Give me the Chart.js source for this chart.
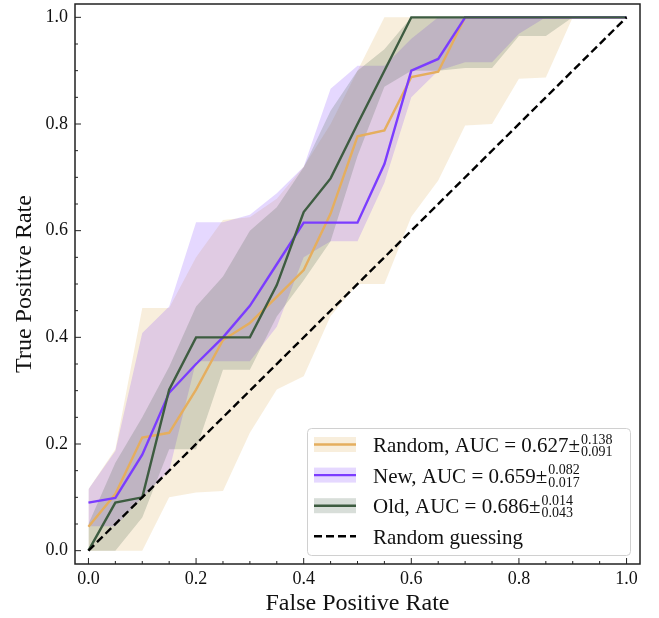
<!DOCTYPE html>
<html>
<head>
<meta charset="utf-8">
<title>ROC curves</title>
<script src="https://cdn.jsdelivr.net/npm/chart.js@4.4.1/dist/chart.umd.min.js"></script>
<style>
  body { margin: 0; background: #fff; }
  #wrap { width: 659px; height: 618px; position: relative; }
</style>
</head>
<body>
<div id="wrap"><canvas id="roc"></canvas></div>
<script>
// false positive rate grid shared by every curve
const fpr = [0, 0.05, 0.1, 0.15, 0.2, 0.25, 0.3, 0.35, 0.4, 0.45, 0.5,
             0.55, 0.6, 0.65, 0.7, 0.75, 0.8, 0.85, 0.9, 0.95, 1.0]

const randomTpr  = [0.045, 0.106, 0.212, 0.221, 0.302, 0.395, 0.427, 0.476, 0.526, 0.632, 0.777, 0.788, 0.888, 0.898, 1, 1, 1, 1, 1, 1, 1]
const randomLow  = [0, 0, 0, 0.1, 0.109, 0.112, 0.221, 0.302, 0.327, 0.44, 0.5, 0.5, 0.626, 0.694, 0.797, 0.8, 0.885, 0.887, 1, 1, 1]
const randomHigh = [0.115, 0.19, 0.455, 0.455, 0.55, 0.62, 0.625, 0.66, 0.72, 0.8, 0.9, 1, 1, 1, 1, 1, 1, 1, 1, 1, 1]

const newTpr  = [0.09, 0.099, 0.18, 0.296, 0.35, 0.40, 0.459, 0.537, 0.615, 0.615, 0.615, 0.725, 0.9, 0.922, 1, 1, 1, 1, 1, 1, 1]
const newLow  = [0.046, 0.046, 0.1, 0.15, 0.355, 0.355, 0.355, 0.42, 0.55, 0.58, 0.58, 0.69, 0.85, 0.9, 0.916, 0.916, 0.969, 1, 1, 1, 1]
const newHigh = [0.115, 0.187, 0.408, 0.458, 0.616, 0.616, 0.63, 0.67, 0.72, 0.866, 0.909, 0.909, 0.96, 1, 1, 1, 1, 1, 1, 1, 1]

const oldTpr  = [0, 0.09, 0.1, 0.302, 0.4, 0.4, 0.4, 0.498, 0.635, 0.698, 0.8, 0.9, 1, 1, 1, 1, 1, 1, 1, 1, 1]
const oldLow  = [0, 0, 0.062, 0.19, 0.19, 0.339, 0.339, 0.439, 0.507, 0.58, 0.74, 0.87, 0.9, 0.9, 0.905, 0.905, 0.965, 0.965, 1, 1, 1]
const oldHigh = [0.05, 0.165, 0.25, 0.345, 0.458, 0.514, 0.6, 0.644, 0.719, 0.825, 0.9, 0.94, 1, 1, 1, 1, 1, 1, 1, 1, 1]

const diagX = [0, 1]
const diagY = [0, 1]

const seriesNames = ['Random', 'New', 'Old']
const aucMean  = ['0.627', '0.659', '0.686']
const aucPlus  = ['0.138', '0.082', '0.014']
const aucMinus = ['0.091', '0.017', '0.043']

const majorTicks = [0, 0.2, 0.4, 0.6, 0.8, 1.0]
const tickLabels = ['0.0', '0.2', '0.4', '0.6', '0.8', '1.0']
const minorTicks = [0.05, 0.1, 0.15, 0.25, 0.3, 0.35, 0.45, 0.5, 0.55, 0.65, 0.7, 0.75, 0.85, 0.9, 0.95]

const serif = "'Liberation Serif', 'DejaVu Serif', serif"
const lineColors = ['#e5ae5e', '#7b3cff', '#3d5c40']
const bandColors = ['rgba(222,176,96,0.22)', 'rgba(123,60,255,0.2)', 'rgba(61,92,64,0.2)']

const curves = [
  [randomTpr, randomLow, randomHigh],
  [newTpr, newLow, newHigh],
  [oldTpr, oldLow, oldHigh]
]

const pts = (xs, ys) => xs.map((x, i) => ({ x: x, y: ys[i] }))

// bands first (lower bound + upper bound filled to it), then the curves
const datasets = []
curves.forEach((c, i) => {
  const lowIdx = datasets.length
  datasets.push({
    data: pts(fpr, c[1]), borderWidth: 0, pointRadius: 0, fill: false,
    order: 30 - i * 10
  })
  datasets.push({
    data: pts(fpr, c[2]), borderWidth: 0, pointRadius: 0,
    fill: lowIdx, backgroundColor: bandColors[i],
    order: 30 - i * 10
  })
})
curves.forEach((c, i) => {
  datasets.push({
    label: seriesNames[i],
    data: pts(fpr, c[0]),
    borderColor: lineColors[i], borderWidth: 2.4, pointRadius: 0,
    fill: false, tension: 0, order: 3 - i
  })
})
datasets.push({
  label: 'Random guessing',
  data: pts(diagX, diagY),
  borderColor: '#000', borderWidth: 2.4, borderDash: [8, 4],
  pointRadius: 0, fill: false, order: 0
})

// matplotlib-like frame with inward ticks on left and bottom
const frameTicks = {
  id: 'frameTicks',
  afterDatasetsDraw(chart) {
    const { ctx, chartArea: ca, scales } = chart
    ctx.save()
    ctx.strokeStyle = '#222'
    ctx.lineWidth = 1
    const tick = (v, len) => {
      const px = scales.x.getPixelForValue(v)
      const py = scales.y.getPixelForValue(v)
      ctx.beginPath()
      ctx.moveTo(px, ca.bottom); ctx.lineTo(px, ca.bottom - len)
      ctx.moveTo(ca.left, py); ctx.lineTo(ca.left + len, py)
      ctx.stroke()
    }
    majorTicks.forEach(v => tick(v, 6))
    minorTicks.forEach(v => tick(v, 3))
    ctx.lineWidth = 1.5
    ctx.strokeRect(ca.left, ca.top, ca.right - ca.left, ca.bottom - ca.top)
    ctx.restore()
  }
}

const aucLegend = {
  id: 'aucLegend',
  afterDraw(chart) {
    const { ctx, chartArea: ca } = chart
    const w = 323, h = 127
    const x0 = ca.right - 10 - w
    const y0 = ca.bottom - 9 - h
    ctx.save()
    ctx.beginPath()
    ctx.roundRect(x0 + 0.5, y0 + 0.5, w, h, 4)
    ctx.fillStyle = 'rgba(255,255,255,0.8)'
    ctx.fill()
    ctx.strokeStyle = '#d0d0d0'
    ctx.lineWidth = 1
    ctx.stroke()

    const hx = x0 + 7, hw = 42, tx = x0 + 66
    ctx.textBaseline = 'alphabetic'
    for (let i = 0; i < 4; i++) {
      const cy = y0 + 16.5 + i * 30.6
      ctx.beginPath()
      if (i < 3) {
        ctx.fillStyle = bandColors[i]
        ctx.fillRect(hx, cy - 7.5, hw, 15)
        ctx.strokeStyle = lineColors[i]
        ctx.setLineDash([])
      } else {
        ctx.strokeStyle = '#000'
        ctx.setLineDash([8, 4])
      }
      ctx.lineWidth = 2.4
      ctx.moveTo(hx, cy); ctx.lineTo(hx + hw, cy)
      ctx.stroke()
      ctx.setLineDash([])

      ctx.fillStyle = '#111'
      ctx.font = '21px ' + serif
      if (i < 3) {
        const main = seriesNames[i] + ', AUC = ' + aucMean[i] + '±'
        ctx.fillText(main, tx, cy + 7.4)
        const mw = ctx.measureText(main).width
        ctx.font = '14px ' + serif
        ctx.fillText(aucPlus[i], tx + mw + 1, cy - 1)
        ctx.fillText(aucMinus[i], tx + mw + 1, cy + 11.7)
      } else {
        ctx.fillText('Random guessing', tx, cy + 7.4)
      }
    }
    ctx.restore()
  }
}

new Chart(document.getElementById('roc'), {
  type: 'line',
  data: { datasets: datasets },
  plugins: [frameTicks, aucLegend],
  options: {
    responsive: true,
    maintainAspectRatio: false,
    animation: false,
    events: [],
    layout: { padding: { top: 4, right: 19, left: 0, bottom: 0 } },
    plugins: {
      legend: { display: false },
      tooltip: { enabled: false }
    },
    scales: {
      x: {
        type: 'linear', min: -0.025, max: 1.025,
        grid: { display: false, drawTicks: false },
        border: { display: false },
        afterBuildTicks: s => { s.ticks = majorTicks.map(v => ({ value: v })) },
        ticks: {
          callback: (v, i) => tickLabels[i],
          padding: 4, maxRotation: 0, autoSkip: false,
          color: '#111', font: { family: serif, size: 18 }
        },
        title: {
          display: true, text: 'False Positive Rate', color: '#111',
          font: { family: serif, size: 24 }, padding: { top: 0, bottom: 0 }
        },
        afterFit: s => { s.height = 54; s.paddingLeft = 0; s.paddingRight = 0 }
      },
      y: {
        type: 'linear', min: -0.025, max: 1.025,
        grid: { display: false, drawTicks: false },
        border: { display: false },
        afterBuildTicks: s => { s.ticks = majorTicks.map(v => ({ value: v })) },
        ticks: {
          callback: (v, i) => tickLabels[i],
          padding: 7, autoSkip: false,
          color: '#111', font: { family: serif, size: 18 }
        },
        title: {
          display: true, text: 'True Positive Rate', color: '#111',
          font: { family: serif, size: 24 }, padding: { top: 10, bottom: 0 }
        },
        afterFit: s => { s.width = 75; s.paddingTop = 0; s.paddingBottom = 0 }
      }
    }
  }
})
</script>
</body>
</html>
